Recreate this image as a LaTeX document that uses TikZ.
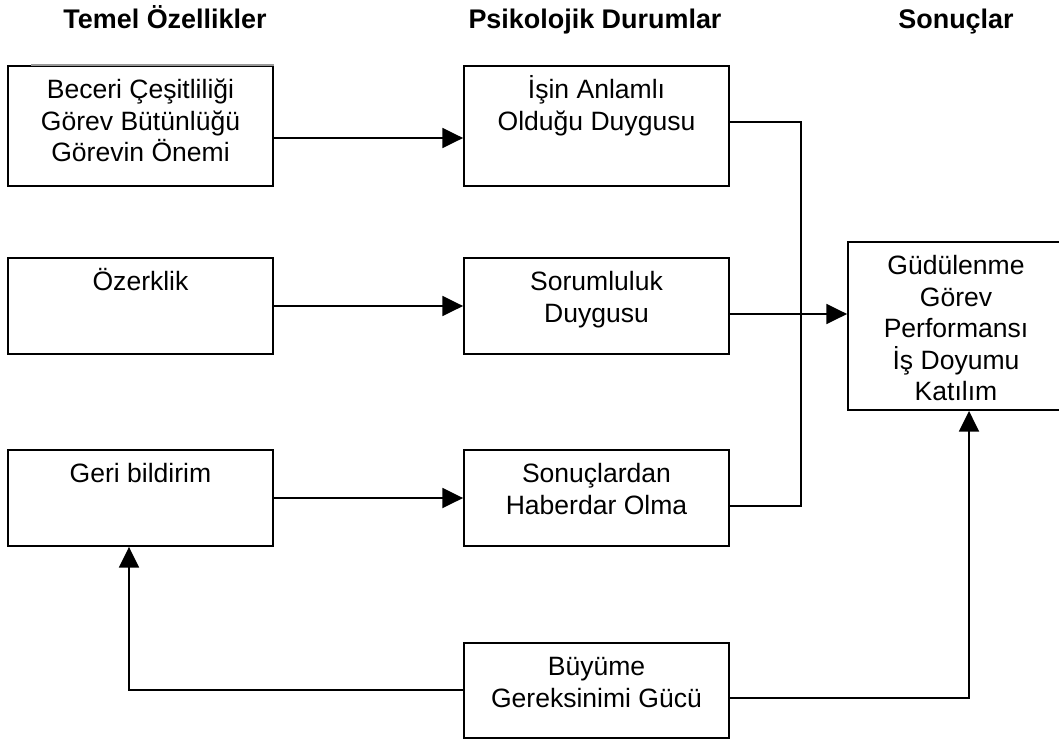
\documentclass[tikz,border=0pt]{standalone}
\usepackage{fontspec}
\setmainfont{Liberation Sans}
\usetikzlibrary{arrows.meta,calc}
\newcommand{\firststrut}{\rule{0pt}{19.5pt}}
\begin{document}
\begin{tikzpicture}[x=0.75pt,y=-0.75pt,
  ln/.style={line width=1.4pt},
  arr/.style={ln,-{Triangle[length=15.5pt,width=15pt]}},
  box/.style={draw,line width=1.4pt,rectangle,inner sep=0pt,minimum width=198.75pt},
  txt/.style={inner sep=0pt,align=center,anchor=north,font=\fontsize{19.9pt}{23.6pt}\selectfont},
  head/.style={inner sep=0pt,anchor=base,font=\fontsize{20.2pt}{24pt}\selectfont\bfseries}]
\useasboundingbox (0,0) rectangle (1059,742);

% headers
\node[head] (h1) at (165,29) {Temel Özellikler};
\node[head] (h2) at (595,29) {Psikolojik Durumlar};
\node[head] (h3) at (956,29) {Sonuçlar};

% boxes
\node[box,minimum height=90pt] (A1) at (140.5,126) {};
\node[box,minimum height=72pt] (A2) at (140.5,306) {};
\node[box,minimum height=72pt] (A3) at (140.5,498) {};
\node[box,minimum height=90pt] (B1) at (596.5,126) {};
\node[box,minimum height=72pt] (B2) at (596.5,306) {};
\node[box,minimum height=72pt] (B3) at (596.5,498) {};
\node[box,minimum height=71.25pt] (B4) at (596.5,690.5) {};
\node[box,minimum width=162pt,minimum height=126pt] (C) at (956,326) {};

% top edge artefact of first box
\draw[ln,black!40] ([xshift=18pt]A1.north west) -- (A1.north east);

% texts
\node[txt] (tA1) at ([yshift=-5.6pt]A1.north) {\firststrut Beceri Çeşitliliği\\Görev Bütünlüğü\\Görevin Önemi};
\node[txt] (tA2) at ([yshift=-5.6pt]A2.north) {\firststrut Özerklik};
\node[txt] (tA3) at ([yshift=-5.6pt]A3.north) {\firststrut Geri bildirim};
\node[txt] (tB1) at ([yshift=-5.6pt]B1.north) {\firststrut İşin Anlamlı\\Olduğu Duygusu};
\node[txt] (tB2) at ([yshift=-5.6pt]B2.north) {\firststrut Sorumluluk\\Duygusu};
\node[txt] (tB3) at ([yshift=-5.6pt]B3.north) {\firststrut Sonuçlardan\\Haberdar Olma};
\node[txt] (tB4) at ([yshift=-5.6pt]B4.north) {\firststrut Büyüme\\Gereksinimi Gücü};
\node[txt] (tC) at ([yshift=-5.6pt]C.north) {\firststrut Güdülenme\\Görev\\Performansı\\İş Doyumu\\Katılım};

% connectors
\coordinate (jt) at (801,122);
\coordinate (jb) at (801,506);
\draw[arr] (A1.east |- 0,138) -- (B1.west |- 0,138);
\draw[arr] (A2.east) -- (B2.west);
\draw[arr] (A3.east) -- (B3.west);
\draw[ln] (B1.east |- jt) -- (jt) -- (jb) -- (B3.east |- jb);
\draw[arr] (B2.east |- 0,314) -- (C.west |- 0,314);
\draw[arr] (B4.west |- 0,690) -| (A3.south -| 129,0);
\draw[arr] (B4.east |- 0,698) -| (C.south -| 969,0);
\end{tikzpicture}
\end{document}
